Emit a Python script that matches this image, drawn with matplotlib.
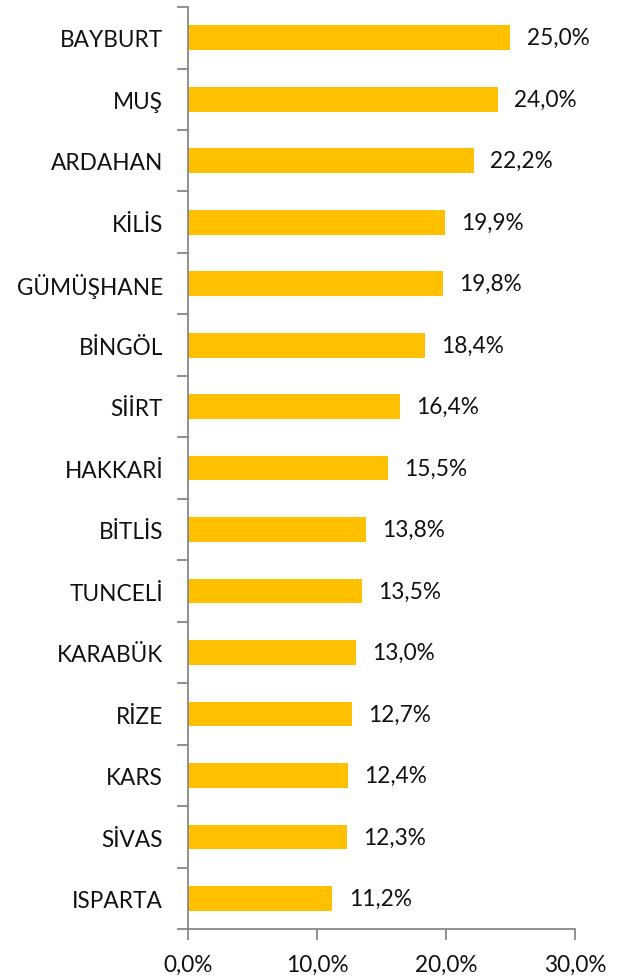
import numpy as np
import matplotlib.pyplot as plt

provinces = ["BAYBURT", "MUŞ", "ARDAHAN", "KİLİS", "GÜMÜŞHANE", "BİNGÖL", "SİİRT",
             "HAKKARİ", "BİTLİS", "TUNCELİ", "KARABÜK", "RİZE", "KARS", "SİVAS", "ISPARTA"]
rates = [25.0, 24.0, 22.2, 19.9, 19.8, 18.4, 16.4, 15.5, 13.8, 13.5, 13.0, 12.7, 12.4, 12.3, 11.2]
x_ticks = [0, 10, 20, 30]

plt.rcParams["font.family"] = ["Lato", "DejaVu Sans"]

fig = plt.figure(figsize=(6.29, 9.79), dpi=100)
ax = fig.add_axes([0.2989, 0.0497, 0.9141 - 0.2989, 0.9918 - 0.0497])

y = np.arange(len(provinces))
ax.barh(y, rates, height=0.4, color="#FFC000")

for yi, v in zip(y, rates):
    ax.text(v + 1.25, yi, f"{v:.1f}%".replace(".", ","), va="center", ha="left",
            fontsize=16.3, color="#111111")

ax.set_xlim(0, 30)
ax.set_ylim(len(provinces) - 0.5, -0.5)

ax.set_xticks(x_ticks)
ax.set_xticklabels([f"{t:.1f}%".replace(".", ",") for t in x_ticks], fontsize=16.3, color="#111111")

# category labels without ticks, tick marks on boundaries
ax.set_yticks(y)
ax.set_yticklabels(provinces, fontsize=16.3, color="#111111")
ax.tick_params(axis="y", which="major", length=0, pad=18)
ax.set_yticks(np.arange(len(provinces) + 1) - 0.5, minor=True)
ax.tick_params(axis="y", which="minor", length=8, width=1.3, color="#888888", direction="out")
ax.tick_params(axis="x", length=8, width=1.3, color="#888888", direction="out", pad=10)

for side in ["top", "right"]:
    ax.spines[side].set_visible(False)
for side in ["left", "bottom"]:
    ax.spines[side].set_color("#888888")
    ax.spines[side].set_linewidth(1.3)

plt.savefig("out.png", dpi=100)
